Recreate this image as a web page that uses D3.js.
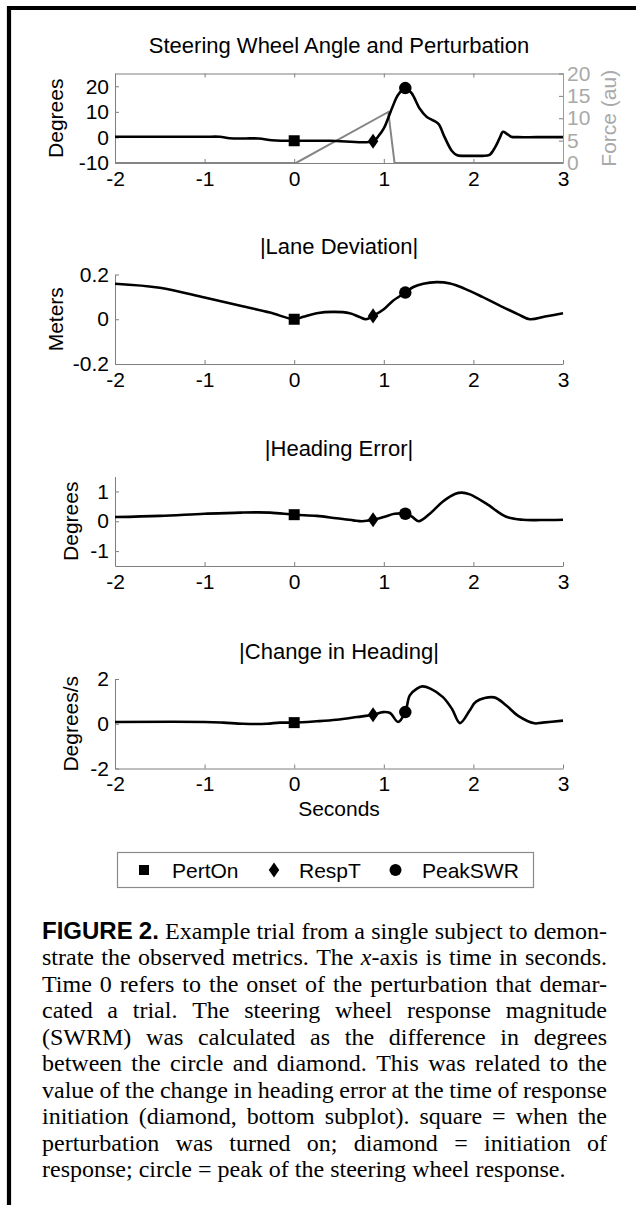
<!DOCTYPE html>
<html><head><meta charset="utf-8">
<script src="https://cdn.jsdelivr.net/npm/d3@7"></script>
<style>body{margin:0;background:#fff}svg{display:block}</style>
</head><body>
<svg id="c" width="636" height="1205"></svg>
<script>
// ---------------- data ----------------
const xTicks = [-2, -1, 0, 1, 2, 3];

const swaTime = [-2, -1.5, -1, -0.83, -0.72, -0.55, -0.4, -0.25, -0.15, 0, 0.4, 0.88, 0.94, 1.0, 1.09, 1.16, 1.24, 1.31, 1.40, 1.48, 1.55, 1.61, 1.68, 1.76, 1.82, 1.9, 2.0, 2.1, 2.18, 2.24, 2.29, 2.33, 2.37, 2.42, 2.5, 2.7, 3];
const swaDeg  = [0.25, 0.25, 0.25, 0.25, -0.3, -0.4, -0.4, -1.1, -1.3, -1.3, -1.3, -1.5, 0.5, 3.5, 11.3, 16.7, 19.3, 17.3, 11.3, 8, 6.7, 5.3, 0, -5.3, -7, -7.2, -7.2, -7.2, -6.8, -4, -0.5, 2.2, 1.5, 0.3, 0.1, 0.1, 0.1];

const forceTime = [-2, 0.02, 1.05, 1.12, 3];
const forceAu   = [0, 0, 11.4, 0, 0];

const laneTime = [-2, -1.5, -1, -0.6, -0.27, 0, 0.1, 0.25, 0.44, 0.62, 0.73, 0.8, 0.88, 1.0, 1.1, 1.24, 1.33, 1.44, 1.59, 1.74, 1.9, 2.1, 2.3, 2.5, 2.63, 2.8, 3];
const laneDev  = [0.159, 0.141, 0.097, 0.06, 0.03, 0, 0.011, 0.027, 0.033, 0.027, 0.01, 0, 0.015, 0.045, 0.082, 0.119, 0.144, 0.159, 0.166, 0.16, 0.137, 0.1, 0.06, 0.022, 0, 0.012, 0.027];

const headTime = [-2, -1.5, -1, -0.6, -0.27, 0, 0.25, 0.47, 0.66, 0.76, 0.88, 1.0, 1.12, 1.24, 1.31, 1.39, 1.52, 1.66, 1.8, 1.87, 1.96, 2.14, 2.36, 2.55, 2.75, 3];
const headErr  = [0.14, 0.18, 0.25, 0.29, 0.29, 0.22, 0.18, 0.1, 0.03, 0, 0.05, 0.14, 0.25, 0.25, 0.16, 0, 0.27, 0.66, 0.92, 0.96, 0.9, 0.6, 0.16, 0.05, 0.04, 0.05];

const dHeadTime = [-2, -1, -0.79, -0.57, -0.31, -0.16, 0, 0.25, 0.47, 0.7, 0.88, 0.99, 1.07, 1.16, 1.24, 1.29, 1.37, 1.43, 1.52, 1.66, 1.76, 1.85, 1.96, 2.03, 2.23, 2.36, 2.5, 2.68, 2.77, 3];
const dHead     = [0.08, 0.08, 0.05, 0, 0, 0.05, 0.05, 0.11, 0.18, 0.3, 0.4, 0.52, 0.48, 0.08, 0.52, 1.27, 1.57, 1.67, 1.57, 1.19, 0.67, 0.03, 0.6, 0.99, 1.18, 0.84, 0.35, 0.02, 0.05, 0.14];

const markerNames = ["PertOn", "RespT", "PeakSWR"];
const markerShapes = ["square", "diamond", "circle"];
const markerTimes = [0, 0.88, 1.24];
const markerSWA   = [-1.3, -1.5, 19.3];
const markerLane  = [0, 0.015, 0.119];
const markerHead  = [0.22, 0.05, 0.25];
const markerDHead = [0.05, 0.4, 0.52];

const swaTicks   = [-10, 0, 10, 20];
const forceTicks = [0, 5, 10, 15, 20];
const laneTicks  = [-0.2, 0, 0.2];
const headTicks  = [-1, 0, 1];
const dHeadTicks = [-2, 0, 2];

const titles  = ["Steering Wheel Angle and Perturbation", "|Lane Deviation|", "|Heading Error|", "|Change in Heading|"];
const yLabels = ["Degrees", "Meters", "Degrees", "Degrees/s"];
const rightLabel = "Force (au)";
const xLabel = "Seconds";

const captionLines = [
  "FIGURE 2. Example trial from a single subject to demon-",
  "strate the observed metrics. The x-axis is time in seconds.",
  "Time 0 refers to the onset of the perturbation that demar-",
  "cated a trial. The steering wheel response magnitude",
  "(SWRM) was calculated as the difference in degrees",
  "between the circle and diamond. This was related to the",
  "value of the change in heading error at the time of response",
  "initiation (diamond, bottom subplot). square = when the",
  "perturbation was turned on; diamond = initiation of",
  "response; circle = peak of the steering wheel response."
];

// ---------------- drawing ----------------
const svg = d3.select("#c");
svg.append("rect").attr("width", 636).attr("height", 1205).attr("fill", "#fff");

const SANS = "'Liberation Sans', Arial, Helvetica, sans-serif";
const SERIF = "'Liberation Serif', 'Times New Roman', serif";
const AX = "#7f7f7f";
const FS = 21;

// frame
svg.append("path").attr("d", "M9,1205V8H636").attr("fill", "none")
  .attr("stroke", "#000").attr("stroke-width", 4.2);

const x = d3.scaleLinear().domain([-2, 3]).range([115, 563]);
const PH = 89.5;

function styleAxis(g, color) {
  g.attr("font-family", SANS).attr("font-size", FS);
  g.select(".domain").attr("stroke", AX).attr("stroke-width", 1);
  g.selectAll(".tick line").attr("stroke", AX).attr("stroke-width", 1);
  g.selectAll(".tick text").attr("fill", color || "#000");
}

function markerPath(shape, s) {
  if (shape === "square") return `M${-s/2},${-s/2}h${s}v${s}h${-s}Z`;
  if (shape === "diamond") return `M0,${-s*0.72}L${s*0.5},0L0,${s*0.72}L${-s*0.5},0Z`;
  const r = s / 2;
  return `M${r},0A${r},${r} 0 1,1 ${-r},0A${r},${r} 0 1,1 ${r},0Z`;
}
const markerSize = {square: 11, diamond: 10.5, circle: 12.5};

function panel(cfg) {
  const top = cfg.top, bottom = top + PH;
  const y = d3.scaleLinear().domain(cfg.domain).range([bottom, top]);
  const g = svg.append("g");

  const gx = g.append("g").attr("transform", `translate(0,${bottom})`)
    .call(d3.axisBottom(x).tickValues(xTicks).tickSizeInner(-4).tickSizeOuter(0).tickPadding(8).tickFormat(d => String(d)));
  styleAxis(gx);
  const gy = g.append("g").attr("transform", `translate(${x.range()[0]},0)`)
    .call(d3.axisLeft(y).tickValues(cfg.ticks).tickSizeInner(-4).tickSizeOuter(0).tickPadding(6).tickFormat(d => String(d)));
  styleAxis(gy);

  if (cfg.box) {
    const gt = g.append("g").attr("transform", `translate(0,${top})`)
      .call(d3.axisTop(x).tickValues(xTicks).tickSizeInner(-4).tickSizeOuter(0).tickFormat(""));
    styleAxis(gt);
    const yR = d3.scaleLinear().domain(cfg.rDomain).range([bottom, top]);
    const gr = g.append("g").attr("transform", `translate(${x.range()[1]},0)`)
      .call(d3.axisRight(yR).tickValues(cfg.rTicks).tickSizeInner(-4).tickSizeOuter(0).tickPadding(4).tickFormat(d => String(d)));
    styleAxis(gr, "#a9a9a9");
    gr.select(".domain").attr("stroke", "#9a9a9a");
    g.append("text").attr("transform", `translate(616,${(top + bottom) / 2}) rotate(-90)`)
      .attr("text-anchor", "middle").attr("font-family", SANS).attr("font-size", FS)
      .attr("fill", "#a9a9a9").text(rightLabel);
    const lf = d3.line().x((d, i) => x(forceTime[i])).y(d => yR(d));
    g.append("path").attr("d", lf(forceAu)).attr("fill", "none")
      .attr("stroke", "#858585").attr("stroke-width", 2);
  }

  g.append("text").attr("x", 339).attr("y", top - 20.5).attr("text-anchor", "middle")
    .attr("font-family", SANS).attr("font-size", 22).attr("fill", "#000").text(cfg.title);
  g.append("text").attr("transform", `translate(${cfg.ylx},${(top + bottom) / 2}) rotate(-90)`)
    .attr("text-anchor", "middle").attr("font-family", SANS).attr("font-size", FS)
    .attr("fill", "#000").text(cfg.ylabel);

  const line = d3.line().x((d, i) => x(cfg.t[i])).y(d => y(d)).curve(d3.curveCatmullRom.alpha(0.5));
  g.append("path").attr("d", line(cfg.v)).attr("fill", "none")
    .attr("stroke", "#000").attr("stroke-width", 2.6).attr("stroke-linejoin", "round");

  markerTimes.forEach((t, i) => {
    const s = markerShapes[i];
    g.append("path").attr("d", markerPath(s, markerSize[s]))
      .attr("transform", `translate(${x(t)},${y(cfg.m[i])})`).attr("fill", "#000");
  });
}

panel({top: 73.5, domain: [-10, 25], ticks: swaTicks, title: titles[0], ylabel: yLabels[0], ylx: 63,
  t: swaTime, v: swaDeg, m: markerSWA, box: true, rDomain: [0, 20], rTicks: forceTicks});
panel({top: 274.5, domain: [-0.2, 0.2], ticks: laneTicks, title: titles[1], ylabel: yLabels[1], ylx: 63,
  t: laneTime, v: laneDev, m: markerLane});
panel({top: 476.5, domain: [-1.5, 1.5], ticks: headTicks, title: titles[2], ylabel: yLabels[2], ylx: 78,
  t: headTime, v: headErr, m: markerHead});
panel({top: 679, domain: [-2, 2], ticks: dHeadTicks, title: titles[3], ylabel: yLabels[3], ylx: 78,
  t: dHeadTime, v: dHead, m: markerDHead});

svg.append("text").attr("x", 339).attr("y", 816).attr("text-anchor", "middle")
  .attr("font-family", SANS).attr("font-size", FS).attr("fill", "#000").text(xLabel);

// legend
const lg = svg.append("g");
lg.append("rect").attr("x", 117.5).attr("y", 852.5).attr("width", 416).attr("height", 35)
  .attr("fill", "#fff").attr("stroke", "#8a8a8a").attr("stroke-width", 1.2);
const legMarkX = [144, 274, 395.5];
const legTextX = [172, 299, 422];
const legSize = {square: 10, diamond: 10.5, circle: 12};
markerNames.forEach((n, i) => {
  const s = markerShapes[i];
  lg.append("path").attr("d", markerPath(s, legSize[s]))
    .attr("transform", `translate(${legMarkX[i]},870)`).attr("fill", "#000");
  lg.append("text").attr("x", legTextX[i]).attr("y", 877.5).attr("font-family", SANS)
    .attr("font-size", FS).attr("fill", "#000").text(n);
});

// caption (justified)
const CFS = 24, CX0 = 42, CX1 = 607, CY0 = 939, CLH = 26.45;
const meas = svg.append("text").attr("visibility", "hidden");
function segStyle(sel, seg) {
  sel.attr("font-family", seg.bold ? SANS : SERIF)
     .attr("font-weight", seg.bold ? "bold" : "normal")
     .attr("font-style", seg.italic ? "italic" : "normal")
     .attr("font-size", seg.bold ? 24 : CFS);
}
function wordSegs(w, li) {
  if (li === 0 && (w === "FIGURE" || w === "2.")) return [{t: w, bold: true}];
  if (w === "x-axis") return [{t: "x", italic: true}, {t: "-axis"}];
  return [{t: w}];
}
function segWidth(seg) {
  meas.selectAll("*").remove();
  const ts = meas.append("tspan").text(seg.t);
  segStyle(ts, seg);
  return meas.node().getComputedTextLength();
}
captionLines.forEach((ln, li) => {
  const words = ln.split(" ").map(w => {
    const segs = wordSegs(w, li);
    return {segs, w: d3.sum(segs, segWidth)};
  });
  const total = d3.sum(words, d => d.w);
  const last = li === captionLines.length - 1;
  const gap = last ? CFS * 0.25 : (CX1 - CX0 - total) / (words.length - 1);
  const t = svg.append("text").attr("y", CY0 + li * CLH).attr("fill", "#000");
  let cx = CX0;
  words.forEach(wd => {
    wd.segs.forEach((seg, si) => {
      const ts = t.append("tspan").text(seg.t);
      if (si === 0) ts.attr("x", cx);
      segStyle(ts, seg);
    });
    cx += wd.w + gap;
  });
});
meas.remove();
</script>
</body></html>
